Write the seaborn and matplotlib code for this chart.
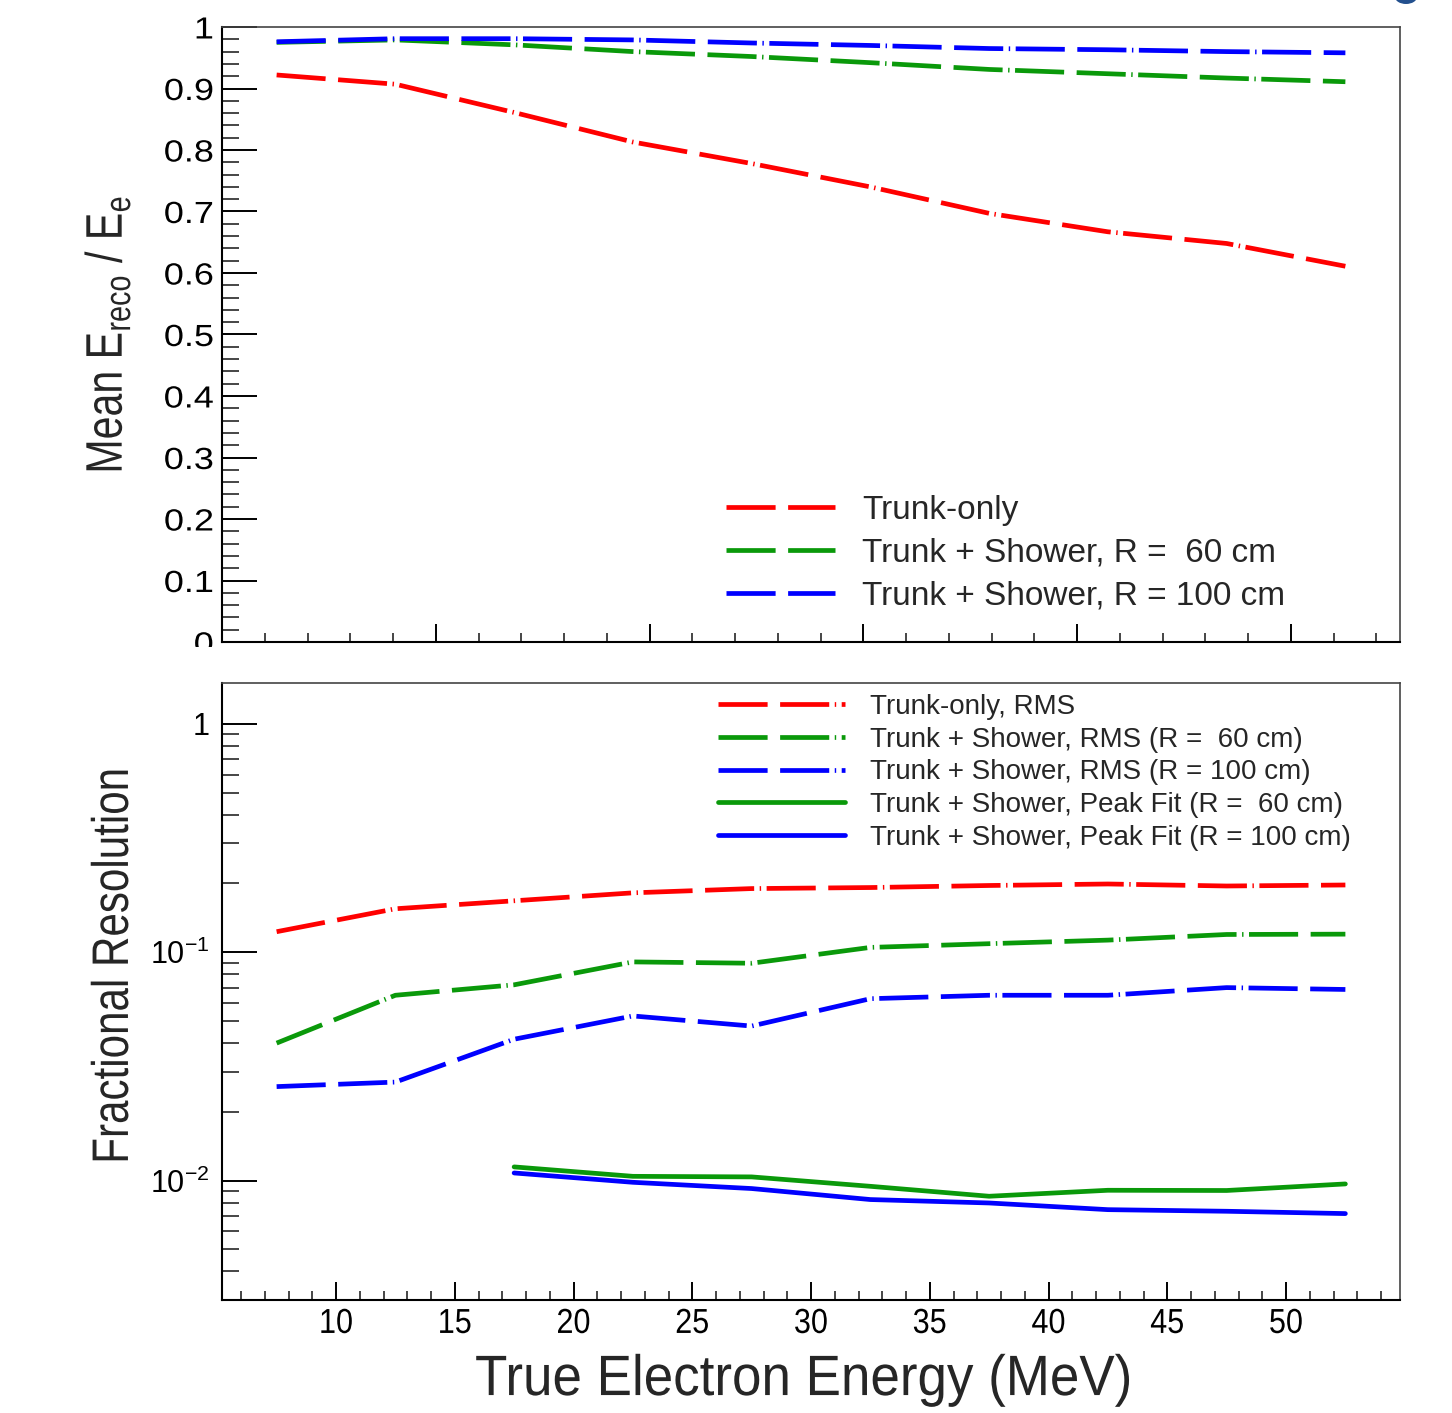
import numpy as np
import matplotlib
matplotlib.use("Agg")
import matplotlib.pyplot as plt
from matplotlib.ticker import (MultipleLocator, LogLocator, FuncFormatter,
                               NullFormatter)
from matplotlib.patheffects import AbstractPathEffect
from matplotlib.transforms import Affine2D
from matplotlib.patches import Ellipse
import seaborn as sns

# ---------------------------------------------------------------------------
# Data
# ---------------------------------------------------------------------------
energy = [7.5, 12.5, 17.5, 22.5, 27.5, 32.5, 37.5, 42.5, 47.5, 52.5]
energy_fit = [17.5, 22.5, 27.5, 32.5, 37.5, 42.5, 47.5, 52.5]

# Mean reconstructed / true energy
mean_trunk = [0.922, 0.907, 0.861, 0.813, 0.778, 0.740, 0.697, 0.667, 0.648, 0.611]
mean_r60 = [0.975, 0.979, 0.971, 0.960, 0.952, 0.942, 0.931, 0.924, 0.917, 0.911]
mean_r100 = [0.976, 0.981, 0.981, 0.979, 0.974, 0.970, 0.965, 0.963, 0.960, 0.958]

# Fractional resolution
res_trunk_rms = [0.123, 0.155, 0.168, 0.182, 0.190, 0.192, 0.196, 0.199, 0.195, 0.197]
res_r60_rms = [0.040, 0.0648, 0.0720, 0.0907, 0.0895, 0.105, 0.109, 0.113, 0.1196, 0.120]
res_r100_rms = [0.0258, 0.0270, 0.0416, 0.0526, 0.0475, 0.0626, 0.0648, 0.0648, 0.0700, 0.0687]
res_r60_fit = [0.01148, 0.01044, 0.01038, 0.00944, 0.00854, 0.00907, 0.00905, 0.00967]
res_r100_fit = [0.0108, 0.00983, 0.00923, 0.00826, 0.00798, 0.00746, 0.00734, 0.00717]

top_labels = ["Trunk-only",
              "Trunk + Shower, R =  60 cm",
              "Trunk + Shower, R = 100 cm"]
bottom_labels = ["Trunk-only, RMS",
                 "Trunk + Shower, RMS (R =  60 cm)",
                 "Trunk + Shower, RMS (R = 100 cm)",
                 "Trunk + Shower, Peak Fit (R =  60 cm)",
                 "Trunk + Shower, Peak Fit (R = 100 cm)"]


# ---------------------------------------------------------------------------
# Horizontal text stretching (condensed titles, wide tick numbers)
# ---------------------------------------------------------------------------
class Stretch(AbstractPathEffect):
    def __init__(self, sx, anchor="center"):
        super().__init__()
        self.sx = sx
        self.anchor = anchor

    def draw_path(self, renderer, gc, tpath, affine, rgbFace=None):
        ext = tpath.get_extents()
        if self.anchor == "right":
            cx = ext.x1
        elif self.anchor == "left":
            cx = ext.x0
        else:
            cx = 0.5 * (ext.x0 + ext.x1)
        t = Affine2D().translate(-cx, 0).scale(self.sx, 1).translate(cx, 0) + affine
        renderer.draw_path(gc, tpath, t, rgbFace)


# ---------------------------------------------------------------------------
# Style
# ---------------------------------------------------------------------------
sns.set_theme(style="ticks")
plt.rcParams.update({
    "font.family": ["Liberation Sans", "DejaVu Sans"],
    "mathtext.fontset": "custom",
    "mathtext.rm": "Liberation Sans",
    "mathtext.sf": "Liberation Sans",
    "axes.edgecolor": "black",
    "axes.linewidth": 1.5,
})

RED = "#ff0000"
GREEN = "#0a990a"
BLUE = "#0000ff"
LW = 3.4
DASH = (0, (10.4, 2.65, 10.4, 1.17, 0.3, 1.17))

W, H = 1452, 1413
fig = plt.figure(figsize=(W / 100, H / 100), dpi=100)
fig.patch.set_facecolor("white")


def pixel_axes(left, top, right, bottom):
    return fig.add_axes([left / W, 1 - bottom / H, (right - left) / W, (bottom - top) / H])


ax1 = pixel_axes(222, 27, 1400, 642)
ax2 = pixel_axes(222, 683, 1400, 1300)

# ---------------------------------------------------------------------------
# Top panel: mean energy ratio
# ---------------------------------------------------------------------------
for y, color, lab in zip([mean_trunk, mean_r60, mean_r100],
                         [RED, GREEN, BLUE], top_labels):
    sns.lineplot(x=energy, y=y, ax=ax1, color=color, linewidth=LW,
                 linestyle=DASH, label=lab, errorbar=None)

ax1.set_xlim(5.2, 54.8)
ax1.set_ylim(0, 1)
ax1.xaxis.set_major_locator(MultipleLocator(9.0, offset=5.2))
ax1.xaxis.set_minor_locator(MultipleLocator(1.8, offset=5.2))
ax1.yaxis.set_major_locator(MultipleLocator(0.1))
ax1.yaxis.set_minor_locator(MultipleLocator(0.02))
ax1.yaxis.set_major_formatter(FuncFormatter(lambda v, p: f"{v:g}"))
ax1.tick_params(axis="x", labelbottom=False)
ax1.set_xlabel("")
ax1.set_ylabel(r"Mean E$_{\mathrm{reco}}$ / E$_{\mathrm{e}}$", fontsize=37,
               path_effects=[Stretch(0.8)])
ax1.yaxis.set_label_coords(-0.0756, 0.499)
ax1.tick_params(axis="y", labelsize=22, pad=6)

ax1.legend(loc="upper left", bbox_to_anchor=(726 / W, 1 - 495 / H),
           bbox_transform=fig.transFigure, frameon=False, fontsize=24,
           handlelength=3.27, handletextpad=0.81, labelspacing=0.36,
           borderpad=0, borderaxespad=0)

# ---------------------------------------------------------------------------
# Bottom panel: fractional resolution (log scale)
# ---------------------------------------------------------------------------
series = [(energy, res_trunk_rms, RED, DASH),
          (energy, res_r60_rms, GREEN, DASH),
          (energy, res_r100_rms, BLUE, DASH),
          (energy_fit, res_r60_fit, GREEN, "-"),
          (energy_fit, res_r100_fit, BLUE, "-")]
for (x, y, color, ls), lab in zip(series, bottom_labels):
    sns.lineplot(x=x, y=y, ax=ax2, color=color, linewidth=LW,
                 linestyle=ls, label=lab, errorbar=None)

ax2.set_yscale("log")
ax2.set_xlim(5.2, 54.8)
ax2.set_ylim(0.003, 1.51)
ax2.xaxis.set_major_locator(MultipleLocator(5))
ax2.xaxis.set_minor_locator(MultipleLocator(1))
ax2.xaxis.set_major_formatter(FuncFormatter(lambda v, p: f"{v:.0f}"))
ax2.yaxis.set_major_locator(LogLocator(base=10, numticks=10))
ax2.yaxis.set_minor_locator(LogLocator(base=10, subs=np.arange(2, 10), numticks=40))
ax2.yaxis.set_minor_formatter(NullFormatter())


def log_label(v, pos):
    exp = int(round(np.log10(v)))
    if exp == 0:
        return "1"
    return r"$\mathsf{10^{%d}}$" % exp


ax2.yaxis.set_major_formatter(FuncFormatter(log_label))
ax2.tick_params(axis="y", labelsize=22, pad=9)
ax2.tick_params(axis="x", labelsize=25, pad=5)
ax2.set_ylabel("Fractional Resolution", fontsize=37,
               path_effects=[Stretch(0.82)])
ax2.yaxis.set_label_coords(-0.0705, 0.541)
ax2.set_xlabel("True Electron Energy (MeV)", fontsize=41,
               path_effects=[Stretch(0.93)])
ax2.xaxis.set_label_coords(0.494, -0.086)

ax2.legend(loc="upper left", bbox_to_anchor=(718 / W, 1 - 694 / H),
           bbox_transform=fig.transFigure, frameon=False, fontsize=20,
           handlelength=4.57, handletextpad=0.9, labelspacing=0.24,
           borderpad=0, borderaxespad=0)

# ---------------------------------------------------------------------------
# Frames and ticks shared by both panels
# ---------------------------------------------------------------------------
for ax in (ax1, ax2):
    ax.set_facecolor("white")
    ax.grid(False)
    for side in ("top", "right"):
        ax.spines[side].set_visible(True)
        ax.spines[side].set_color("#444444")
        ax.spines[side].set_linewidth(1.2)
    ax.tick_params(axis="y", which="major", direction="in", length=25,
                   width=1.4, left=True, right=False, colors="black")
    ax.tick_params(axis="y", which="minor", direction="in", length=12,
                   width=1.2, left=True, right=False)
    ax.tick_params(axis="x", which="major", direction="in", length=13,
                   width=1.4, bottom=True, top=False, colors="black")
    ax.tick_params(axis="x", which="minor", direction="in", length=6.5,
                   width=1.2, bottom=True, top=False)

# tick-number widths
for lbl in ax1.get_yticklabels():
    lbl.set_path_effects([Stretch(1.18, "right")])
for lbl in ax2.get_xticklabels():
    lbl.set_path_effects([Stretch(0.88)])

# blank strip between the panels
fig.add_artist(plt.Rectangle((0, 1 - 681 / H), 220 / W, 34 / H,
                             transform=fig.transFigure, facecolor="white",
                             edgecolor="none", zorder=10))

# edge of the slide heading above the plot
fig.add_artist(Ellipse((1406 / W, 1 + 3 / H), 22 / W, 14 / H,
                       transform=fig.transFigure, facecolor="#23508e",
                       edgecolor="none", zorder=10))

fig.savefig("out.png", dpi=100, facecolor="white")
